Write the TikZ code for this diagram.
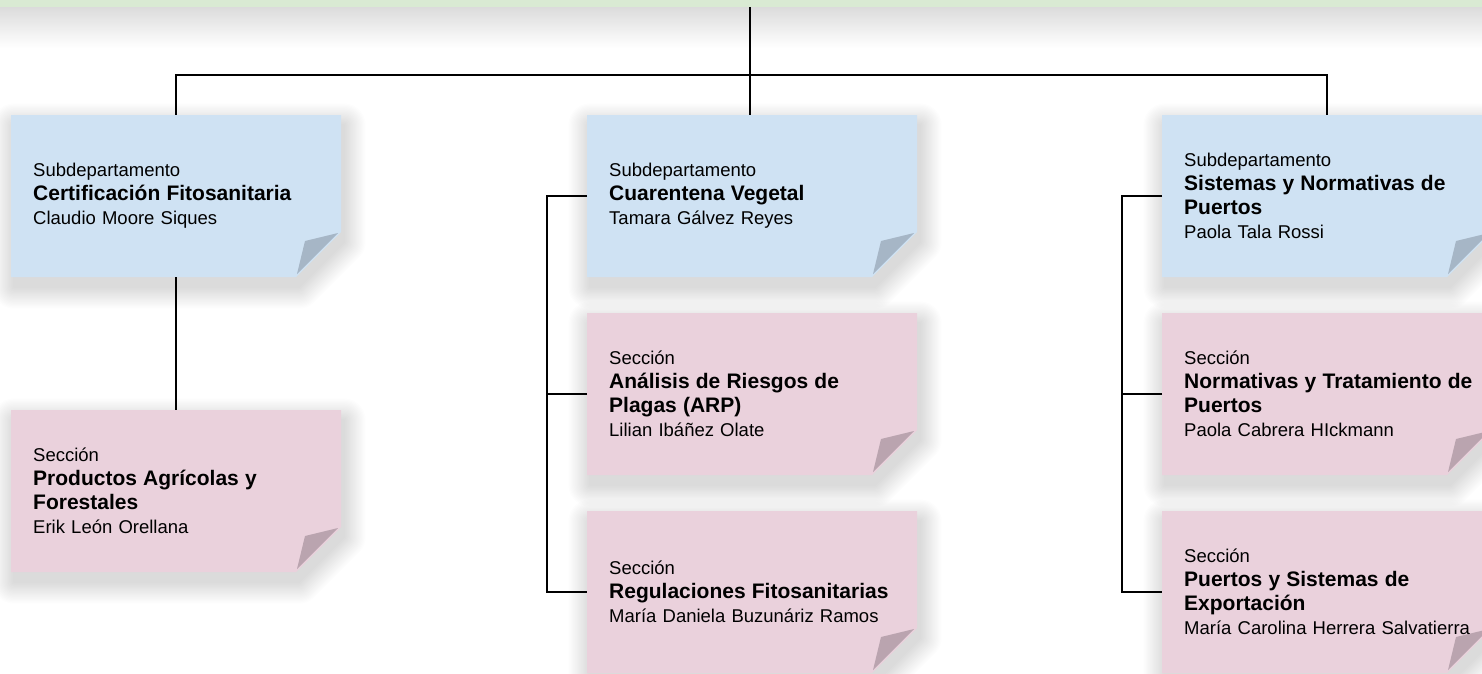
\documentclass[tikz,border=0pt]{standalone}
\usepackage{fontspec}
\setmainfont{Liberation Sans}
\definecolor{nblue}{HTML}{CFE2F3}
\definecolor{npink}{HTML}{EAD1DC}
\definecolor{fblue}{HTML}{A6B6C6}
\definecolor{fpink}{HTML}{BAA4AF}
\definecolor{topgreen}{HTML}{D9EAD3}
\newcommand\regf{\fontsize{18.5pt}{24pt}\selectfont}
\newcommand\boldf{\fontsize{21pt}{24pt}\selectfont\bfseries}
\tikzset{
  notetext/.style={anchor=north west, minimum width=330pt, minimum height=162pt,
    text width=286pt, inner xsep=22pt, inner ysep=0pt, align=left, font=\regf},
  conn/.style={draw=black, line width=1.5pt},
  shadowlayer/.style={fill=black, draw=black, line join=round}
}
\newcommand\notepath[2]{(#1,#2) -- ++(330,0) -- ++(0,117) -- ++(-45,45) -- ++(-285,0) -- cycle}
\newcommand\mknote[5]{%
  \foreach \k in {1,...,18}{%
    \begin{scope}[transparency group, opacity=0.009]
      \filldraw[shadowlayer, line width=\k*2.4pt] [shift={(3,10)}] \notepath{#2}{#3};
    \end{scope}}
  \fill[n#4] \notepath{#2}{#3};
  \fill[f#4] (#2+327,#3+118) -- (#2+294,#3+126) -- (#2+286,#3+159) -- cycle;
  \node[notetext] (#1) at (#2,#3) {#5};
}
\begin{document}
\begin{tikzpicture}[x=1pt, y=-1pt]
\useasboundingbox (0,0) rectangle (1482,673);
\clip (0,0) rectangle (1482,673);
\fill[white] (0,0) rectangle (1482,673);
\shade[top color=black!14, bottom color=white] (0,7) rectangle (1482,48);
\fill[topgreen] (0,0) rectangle (1482,7);

\mknote{c1}{11}{115}{blue}{Subdepartamento\\{\boldf Certificación Fitosanitaria}\\Claudio Moore Siques}
\mknote{s1}{11}{410}{pink}{Sección\\{\boldf Productos Agrícolas y}\\{\boldf Forestales}\\Erik León Orellana}
\mknote{c2}{587}{115}{blue}{Subdepartamento\\{\boldf Cuarentena Vegetal}\\Tamara Gálvez Reyes}
\mknote{s2}{587}{313}{pink}{Sección\\{\boldf Análisis de Riesgos de}\\{\boldf Plagas (ARP)}\\Lilian Ibáñez Olate}
\mknote{s3}{587}{511}{pink}{Sección\\{\boldf Regulaciones Fitosanitarias}\\\mbox{María Daniela Buzunáriz Ramos}}
\mknote{c3}{1162}{115}{blue}{Subdepartamento\\{\boldf Sistemas y Normativas de}\\{\boldf Puertos}\\Paola Tala Rossi}
\mknote{s4}{1162}{313}{pink}{Sección\\\mbox{\boldf Normativas y Tratamiento de}\\{\boldf Puertos}\\Paola Cabrera HIckmann}
\mknote{s5}{1162}{511}{pink}{Sección\\{\boldf Puertos y Sistemas de}\\{\boldf Exportación}\\\mbox{María Carolina Herrera Salvatierra}}

\coordinate (top) at (750,7);
\coordinate (bus) at (750,75);
\draw[conn] (top) -- (bus);
\draw[conn] (bus) -| (c1.north);
\draw[conn] (bus) -- (bus |- c2.north);
\draw[conn] (bus) -| (c3.north);
\draw[conn] (c1.south) -- (s1.north);
\draw[conn] (c2.west) -- ++(-40,0) |- (s3.west);
\draw[conn] (s2.west) -- ++(-40,0);
\draw[conn] (c3.west) -- ++(-40,0) |- (s5.west);
\draw[conn] (s4.west) -- ++(-40,0);
\end{tikzpicture}
\end{document}
